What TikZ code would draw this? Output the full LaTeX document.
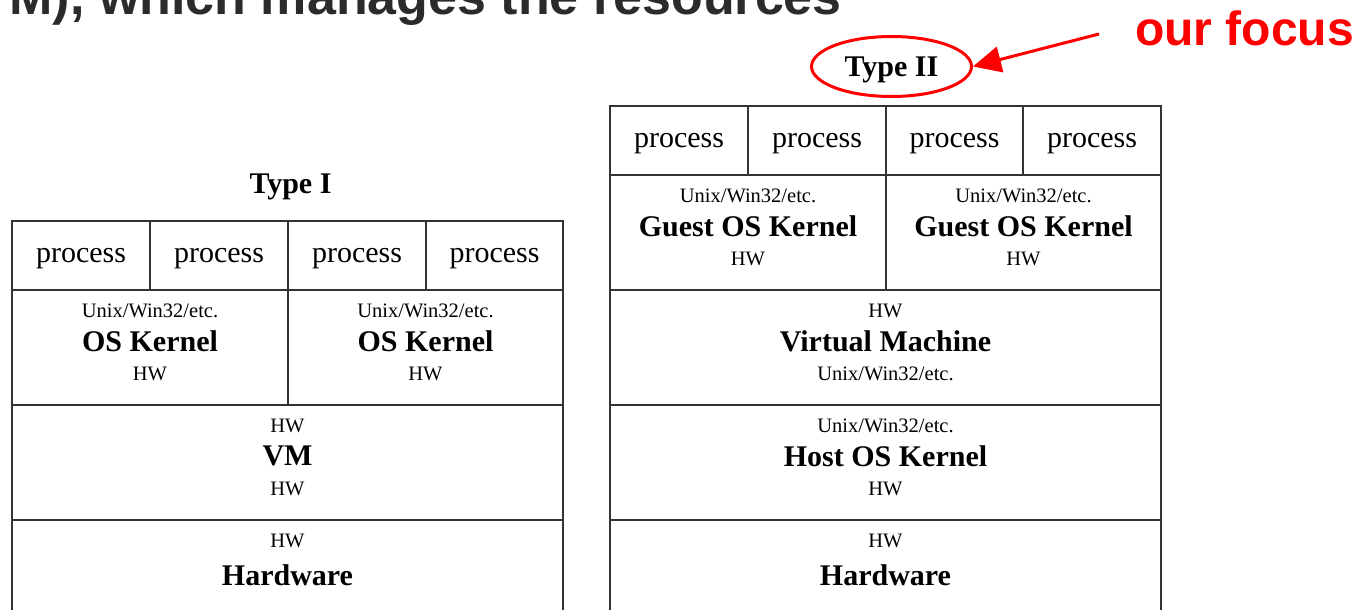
\documentclass[tikz,border=0pt]{standalone}
\usepackage{fontspec}
\setmainfont{Liberation Serif}
\newfontfamily\arialfont{Liberation Sans}
\usetikzlibrary{arrows.meta,shapes.geometric}
\definecolor{linegray}{HTML}{333333}
\definecolor{titlegray}{HTML}{2B2B2B}
\definecolor{focusred}{HTML}{FF0000}
\tikzset{
  cell/.style={draw=linegray, line width=1.6pt, inner sep=0pt, outer sep=0pt, font=\fontsize{30}{36}\selectfont},
  proccell/.style={cell, minimum height=69pt, text height=13pt, text depth=0pt},
  smalltxt/.style={inner sep=0pt, font=\fontsize{20.5}{24}\selectfont},
  bigtxt/.style={inner sep=0pt, font=\fontsize{30}{36}\selectfont\bfseries},
}
\begin{document}
\begin{tikzpicture}[x=1pt,y=-1pt]
\useasboundingbox (0,0) rectangle (1369,610);
% title and annotation
\node[anchor=base east, inner sep=0pt, text=titlegray, font=\arialfont\bfseries\fontsize{52}{60}\selectfont] (title) at (842,15) {M), which manages the resources};
\node[anchor=base west, inner sep=0pt, text=focusred, font=\arialfont\bfseries\fontsize{48}{56}\selectfont] (focus) at (1135,46) {our focus};
\node[bigtxt] (t1) at (290.5,187) {Type I};
\node[draw=focusred, line width=3pt, ellipse, minimum width=160pt, minimum height=60pt, inner sep=0pt, text depth=0pt, font=\fontsize{30}{36}\selectfont\bfseries] (t2) at (891.5,66.5) {Type II};
\coordinate (fs) at (1099,34);
\draw[focusred, line width=3pt, -{Triangle[length=28pt,width=26pt]}] (fs) -- (t2.east);

% ---------------- Type I table ----------------
\node[proccell, minimum width=138pt] (lp1) at (81,255.5) {process};
\node[proccell, minimum width=138pt] (lp2) at (219,255.5) {process};
\node[proccell, minimum width=138pt] (lp3) at (357,255.5) {process};
\node[proccell, minimum width=137pt] (lp4) at (494.5,255.5) {process};
\node[cell, minimum width=276pt, minimum height=115pt] (lk1) at (150,347.5) {};
\node[cell, minimum width=275pt, minimum height=115pt] (lk2) at (425.5,347.5) {};
\node[cell, minimum width=551pt, minimum height=115pt] (lvm) at (287.5,462.5) {};
\node[cell, minimum width=551pt, minimum height=110pt] (lhw) at (287.5,575) {};
\node[smalltxt] (lk1a) at ([yshift=-21pt]lk1.north) {Unix/Win32/etc.};
\node[bigtxt] (lk1b) at ([yshift=-51pt]lk1.north) {OS Kernel};
\node[smalltxt] (lk1c) at ([yshift=-84pt]lk1.north) {HW};
\node[smalltxt] (lk2a) at ([yshift=-21pt]lk2.north) {Unix/Win32/etc.};
\node[bigtxt] (lk2b) at ([yshift=-51pt]lk2.north) {OS Kernel};
\node[smalltxt] (lk2c) at ([yshift=-84pt]lk2.north) {HW};
\node[smalltxt] (lvma) at ([yshift=-21pt]lvm.north) {HW};
\node[bigtxt] (lvmb) at ([yshift=-51pt]lvm.north) {VM};
\node[smalltxt] (lvmc) at ([yshift=-84pt]lvm.north) {HW};
\node[smalltxt] (lhwa) at ([yshift=-21pt]lhw.north) {HW};
\node[bigtxt] (lhwb) at ([yshift=-55pt]lhw.north) {Hardware};

% ---------------- Type II table ----------------
\node[proccell, minimum width=138pt] (rp1) at (679,140.5) {process};
\node[proccell, minimum width=138pt] (rp2) at (817,140.5) {process};
\node[proccell, minimum width=137pt] (rp3) at (954.5,140.5) {process};
\node[proccell, minimum width=138pt] (rp4) at (1092,140.5) {process};
\node[cell, minimum width=276pt, minimum height=115pt] (rg1) at (748,232.5) {};
\node[cell, minimum width=275pt, minimum height=115pt] (rg2) at (1023.5,232.5) {};
\node[cell, minimum width=551pt, minimum height=115pt] (rvm) at (885.5,347.5) {};
\node[cell, minimum width=551pt, minimum height=115pt] (rhost) at (885.5,462.5) {};
\node[cell, minimum width=551pt, minimum height=110pt] (rhw) at (885.5,575) {};
\node[smalltxt] (rg1a) at ([yshift=-21pt]rg1.north) {Unix/Win32/etc.};
\node[bigtxt] (rg1b) at ([yshift=-51pt]rg1.north) {Guest OS Kernel};
\node[smalltxt] (rg1c) at ([yshift=-84pt]rg1.north) {HW};
\node[smalltxt] (rg2a) at ([yshift=-21pt]rg2.north) {Unix/Win32/etc.};
\node[bigtxt] (rg2b) at ([yshift=-51pt]rg2.north) {Guest OS Kernel};
\node[smalltxt] (rg2c) at ([yshift=-84pt]rg2.north) {HW};
\node[smalltxt] (rvma) at ([yshift=-21pt]rvm.north) {HW};
\node[bigtxt] (rvmb) at ([yshift=-51pt]rvm.north) {Virtual Machine};
\node[smalltxt] (rvmc) at ([yshift=-84pt]rvm.north) {Unix/Win32/etc.};
\node[smalltxt] (rhosta) at ([yshift=-21pt]rhost.north) {Unix/Win32/etc.};
\node[bigtxt] (rhostb) at ([yshift=-51pt]rhost.north) {Host OS Kernel};
\node[smalltxt] (rhostc) at ([yshift=-84pt]rhost.north) {HW};
\node[smalltxt] (rhwa) at ([yshift=-21pt]rhw.north) {HW};
\node[bigtxt] (rhwb) at ([yshift=-55pt]rhw.north) {Hardware};
\end{tikzpicture}
\end{document}
